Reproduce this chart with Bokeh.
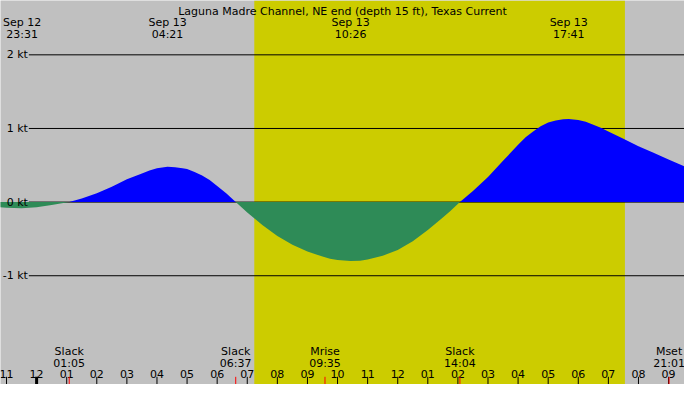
from bokeh.core.properties import value
from bokeh.embed import file_html
from bokeh.models import BoxAnnotation
from bokeh.plotting import figure
from bokeh.resources import INLINE

TITLE = "Laguna Madre Channel, NE end (depth 15 ft), Texas Current"

# hours after midnight of Sep 13 (negative = evening of Sep 12), current in knots
hours = [-1.25, -1.0, -0.5, 0.0, 0.5, 1.083, 1.5, 2.0, 2.5, 3.0, 3.5, 3.75,
         4.0, 4.35, 4.6, 4.85, 5.0, 5.25, 5.5, 5.75, 6.0, 6.3, 6.617, 7.0,
         7.5, 8.0, 8.5, 9.0, 9.5, 9.75, 10.0, 10.433, 10.75, 11.0, 11.5, 12.0,
         12.5, 13.0, 13.5, 13.75, 14.067, 14.5, 15.0, 15.5, 15.75, 16.0,
         16.25, 16.5, 16.75, 17.0, 17.25, 17.5, 17.683, 18.0, 18.25, 18.5,
         18.75, 19.0, 19.5, 20.0, 20.5, 21.0, 21.5, 21.8]
speed_kt = [-0.07, -0.075, -0.085, -0.07, -0.04, 0.0, 0.05, 0.12, 0.21, 0.31,
            0.39, 0.43, 0.46, 0.48, 0.475, 0.46, 0.45, 0.41, 0.36, 0.30, 0.22,
            0.12, 0.0, -0.14, -0.31, -0.46, -0.58, -0.67, -0.74, -0.77,
            -0.785, -0.80, -0.795, -0.78, -0.73, -0.65, -0.53, -0.38, -0.21,
            -0.12, 0.0, 0.15, 0.34, 0.56, 0.67, 0.78, 0.88, 0.96, 1.03, 1.08,
            1.11, 1.125, 1.13, 1.115, 1.09, 1.05, 1.01, 0.96, 0.86, 0.76, 0.67,
            0.58, 0.49, 0.44]

levels_kt = [2, 1, 0, -1]
level_labels = ["2 kt", "1 kt", "0 kt", "-1 kt"]

peak_days = ["Sep 12", "Sep 13", "Sep 13", "Sep 13"]
peak_times = ["23:31", "04:21", "10:26", "17:41"]

event_names = ["Slack", "Slack", "Mrise", "Slack", "Mset"]
event_times = ["01:05", "06:37", "09:35", "14:04", "21:01"]

tick_hours = list(range(-1, 22))
tick_labels = ["11", "12", "01", "02", "03", "04", "05", "06", "07", "08",
               "09", "10", "11", "12", "01", "02", "03", "04", "05", "06",
               "07", "08", "09"]

sunrise = "07:14"
sunset = "19:33"

X0, X1 = -1.2, 21.53
Y0, Y1 = -2.477, 2.738
FONT = value("DejaVu Sans")
FS = "11px"


def to_hours(hhmm, day="Sep 13"):
    h, m = hhmm.split(":")
    t = int(h) + int(m) / 60
    return t - 24 if day == "Sep 12" else t


def row(px):
    # row in the 400px tall reference -> knots
    return Y1 - px / 400 * (Y1 - Y0)


def col(px):
    return X0 + px / 700 * (X1 - X0)


p = figure(width=684, height=384, x_range=(X0, X1), y_range=(Y0, Y1),
           output_backend="svg", toolbar_location=None, min_border=0)
p.axis.visible = False
p.grid.visible = False
p.outline_line_color = None
p.background_fill_color = "#c0c0c0"
p.border_fill_color = "#c0c0c0"

p.add_layout(BoxAnnotation(left=to_hours(sunrise), right=to_hours(sunset),
                           fill_color="#cccc00", fill_alpha=1, line_color=None,
                           level="underlay"))

p.segment(x0=[col(29)] * len(levels_kt), x1=[X1] * len(levels_kt),
          y0=levels_kt, y1=levels_kt, line_color="black", line_width=1)

flood = [max(v, 0) for v in speed_kt]
ebb = [min(v, 0) for v in speed_kt]
p.varea(x=hours, y1=[0] * len(hours), y2=flood, fill_color="#0000ff")
p.varea(x=hours, y1=[0] * len(hours), y2=ebb, fill_color="#2e8b57")

p.text(x=[col(28)] * len(levels_kt), y=levels_kt, text=level_labels,
       text_align="right", text_baseline="middle", text_font=FONT,
       text_font_size=FS, text_color="black")

p.text(x=[(X0 + X1) / 2], y=[row(11)], text=[TITLE], text_align="center",
       text_baseline="alphabetic", text_font=FONT, text_font_size=FS)

peak_x = [to_hours(t, d) for t, d in zip(peak_times, peak_days)]
p.text(x=peak_x, y=[row(23)] * 4, text=peak_days, text_align="center",
       text_baseline="alphabetic", text_font=FONT, text_font_size=FS)
p.text(x=peak_x, y=[row(35.5)] * 4, text=peak_times, text_align="center",
       text_baseline="alphabetic", text_font=FONT, text_font_size=FS)

event_x = [to_hours(t) for t in event_times]
p.text(x=event_x, y=[row(366)] * len(event_x), text=event_names,
       text_align="center", text_baseline="alphabetic", text_font=FONT,
       text_font_size=FS)
p.text(x=event_x, y=[row(378)] * len(event_x), text=event_times,
       text_align="center", text_baseline="alphabetic", text_font=FONT,
       text_font_size=FS)

p.text(x=tick_hours, y=[row(389.5)] * len(tick_hours), text=tick_labels,
       text_align="center", text_baseline="alphabetic", text_font=FONT,
       text_font_size=FS)

plain = [h for h in tick_hours if h != 0]
p.segment(x0=plain, x1=plain, y0=[row(392)] * len(plain), y1=[Y0] * len(plain),
          line_color="black", line_width=1)
p.segment(x0=[0], x1=[0], y0=[row(392)], y1=[Y0], line_color="black",
          line_width=3)
p.segment(x0=event_x, x1=event_x, y0=[row(392)] * len(event_x),
          y1=[Y0] * len(event_x), line_color="red", line_width=1)

open("out.html", "w").write(file_html(p, INLINE))
